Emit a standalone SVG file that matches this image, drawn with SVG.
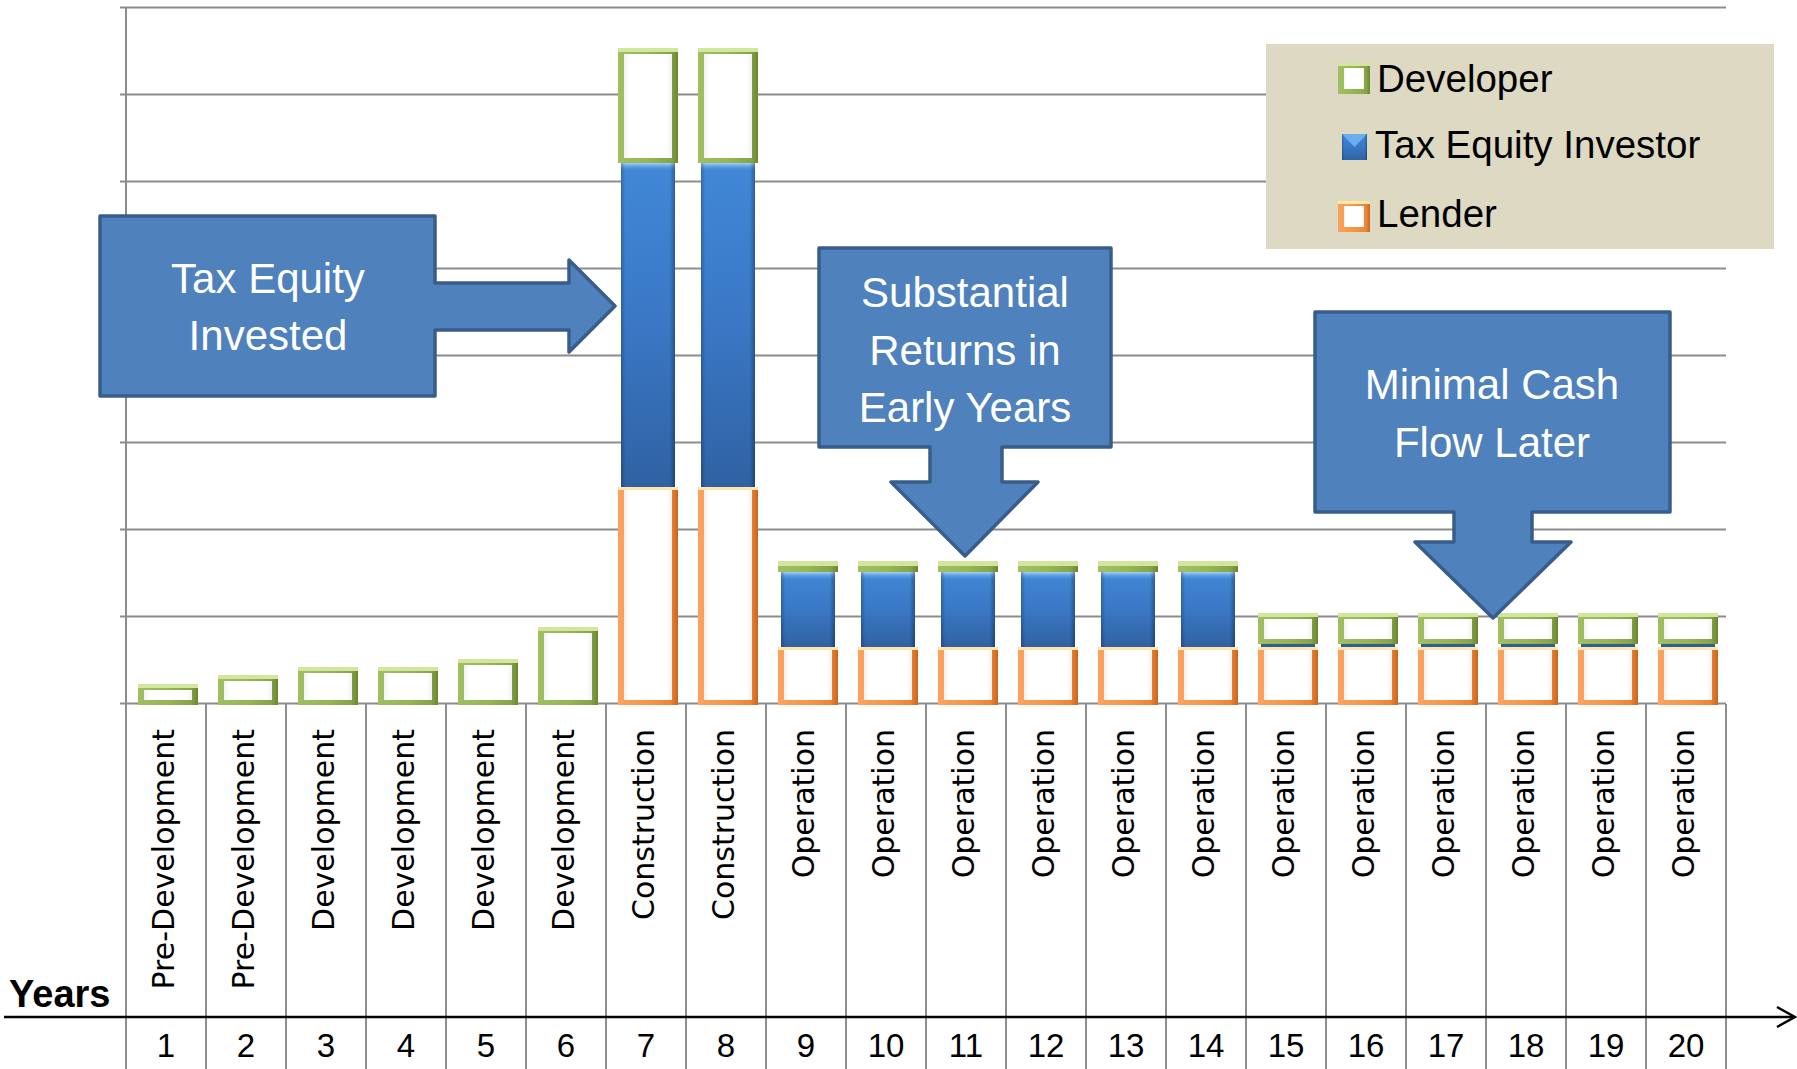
<svg xmlns="http://www.w3.org/2000/svg" width="1797" height="1069" viewBox="0 0 1797 1069">
<defs>
<style>
.grid{stroke:#8C8C8C;stroke-width:2;fill:none}
.div{stroke:#8E8E8E;stroke-width:2;fill:none}
.axis{stroke:#000;stroke-width:2.5;fill:none}
.cat{font-family:"DejaVu Sans",sans-serif;font-size:30px;fill:#000}
.num{font-family:"Liberation Sans",Arial,sans-serif;font-size:33px;fill:#000;text-anchor:middle}
.callout{fill:#4F81BD;stroke:#385D8A;stroke-width:3.5;stroke-linejoin:round}
.ctext{font-family:"Liberation Sans",Arial,sans-serif;font-size:42px;fill:#FFFFFF;text-anchor:middle}
.leg{font-family:"Liberation Sans",Arial,sans-serif;font-size:38.5px;fill:#000}
.gOut{fill:url(#gGreen)}
.gTop{fill:#D3E6A0}
.wIn{fill:url(#gWhite)}
.oOut{fill:url(#gOrange)}
.oTop{fill:#FDE7A8}
.bBase{fill:url(#gBlueV)}
.bEdge{fill:url(#gBlueH)}
.bTop{fill:url(#gBlueTop)}
</style>
<linearGradient id="gGreen" x1="0" y1="0" x2="1" y2="0">
<stop offset="0" stop-color="#A0BF62"/><stop offset="0.5" stop-color="#96B654"/><stop offset="0.88" stop-color="#86A547"/><stop offset="1" stop-color="#6A8632"/>
</linearGradient>
<linearGradient id="gOrange" x1="0" y1="0" x2="1" y2="0">
<stop offset="0" stop-color="#F9A35E"/><stop offset="0.5" stop-color="#F79646"/><stop offset="0.88" stop-color="#EC8537"/><stop offset="1" stop-color="#C8661E"/>
</linearGradient>
<linearGradient id="gWhite" x1="0" y1="0" x2="1" y2="0">
<stop offset="0" stop-color="#F2F2F2"/><stop offset="0.12" stop-color="#FFFFFF"/><stop offset="0.88" stop-color="#FFFFFF"/><stop offset="1" stop-color="#F2F2F2"/>
</linearGradient>
<linearGradient id="gBlueV" x1="0" y1="0" x2="0" y2="1">
<stop offset="0" stop-color="#4088D8"/><stop offset="0.5" stop-color="#3A77C4"/><stop offset="1" stop-color="#2F62A3"/>
</linearGradient>
<linearGradient id="gBlueH" x1="0" y1="0" x2="1" y2="0">
<stop offset="0" stop-color="#000" stop-opacity="0.22"/><stop offset="0.08" stop-color="#000" stop-opacity="0"/><stop offset="0.9" stop-color="#000" stop-opacity="0"/><stop offset="1" stop-color="#000" stop-opacity="0.3"/>
</linearGradient>
<linearGradient id="gBlueTop" x1="0" y1="0" x2="0" y2="1">
<stop offset="0" stop-color="#A3D2FA"/><stop offset="1" stop-color="#4A8FDA" stop-opacity="0"/>
</linearGradient>
</defs>

<rect x="0" y="0" width="1797" height="1069" fill="#FFFFFF"/>

<g id="gridlines">
<line class="grid" x1="120" y1="7.5" x2="1726" y2="7.5"/>
<line class="grid" x1="120" y1="94.5" x2="1726" y2="94.5"/>
<line class="grid" x1="120" y1="181.5" x2="1726" y2="181.5"/>
<line class="grid" x1="120" y1="268.5" x2="1726" y2="268.5"/>
<line class="grid" x1="120" y1="355.5" x2="1726" y2="355.5"/>
<line class="grid" x1="120" y1="442.5" x2="1726" y2="442.5"/>
<line class="grid" x1="120" y1="529.5" x2="1726" y2="529.5"/>
<line class="grid" x1="120" y1="616.5" x2="1726" y2="616.5"/>
<line class="grid" x1="120" y1="703.5" x2="1726" y2="703.5"/>
<line class="grid" x1="126" y1="7" x2="126" y2="704"/>
</g>

<g id="dividers">
<line class="div" x1="126" y1="704" x2="126" y2="1069"/>
<line class="div" x1="206" y1="704" x2="206" y2="1069"/>
<line class="div" x1="286" y1="704" x2="286" y2="1069"/>
<line class="div" x1="366" y1="704" x2="366" y2="1069"/>
<line class="div" x1="446" y1="704" x2="446" y2="1069"/>
<line class="div" x1="526" y1="704" x2="526" y2="1069"/>
<line class="div" x1="606" y1="704" x2="606" y2="1069"/>
<line class="div" x1="686" y1="704" x2="686" y2="1069"/>
<line class="div" x1="766" y1="704" x2="766" y2="1069"/>
<line class="div" x1="846" y1="704" x2="846" y2="1069"/>
<line class="div" x1="926" y1="704" x2="926" y2="1069"/>
<line class="div" x1="1006" y1="704" x2="1006" y2="1069"/>
<line class="div" x1="1086" y1="704" x2="1086" y2="1069"/>
<line class="div" x1="1166" y1="704" x2="1166" y2="1069"/>
<line class="div" x1="1246" y1="704" x2="1246" y2="1069"/>
<line class="div" x1="1326" y1="704" x2="1326" y2="1069"/>
<line class="div" x1="1406" y1="704" x2="1406" y2="1069"/>
<line class="div" x1="1486" y1="704" x2="1486" y2="1069"/>
<line class="div" x1="1566" y1="704" x2="1566" y2="1069"/>
<line class="div" x1="1646" y1="704" x2="1646" y2="1069"/>
<line class="div" x1="1726" y1="704" x2="1726" y2="1069"/>
</g>

<g id="legend">
<rect x="1266" y="44" width="508" height="205" fill="#DDD9C3"/>
<rect class="gOut" x="1338" y="63" width="32" height="31"/>
<rect class="gTop" x="1338" y="63" width="32" height="3"/>
<rect class="wIn" x="1344" y="68" width="20" height="21"/>
<rect class="bBase" x="1342" y="134" width="25" height="26"/>
<polygon points="1342,134 1367,134 1354.5,147" fill="#6BAEF0"/>
<rect class="bEdge" x="1342" y="134" width="25" height="26"/>
<rect class="oOut" x="1338" y="201" width="32" height="31"/>
<rect class="oTop" x="1338" y="201" width="32" height="3"/>
<rect class="wIn" x="1344" y="206" width="20" height="21"/>
<text class="leg" x="1377" y="92">Developer</text>
<text class="leg" x="1375" y="158">Tax Equity Investor</text>
<text class="leg" x="1377" y="227">Lender</text>
</g>

<g id="bars">
<g id="bar1"><rect class="gOut" x="138" y="684" width="60" height="21"/><rect class="gTop" x="138" y="684" width="60" height="4"/><rect class="wIn" x="144" y="690" width="48" height="10"/></g>
<g id="bar2"><rect class="gOut" x="218" y="675" width="60" height="30"/><rect class="gTop" x="218" y="675" width="60" height="4"/><rect class="wIn" x="224" y="681" width="48" height="19"/></g>
<g id="bar3"><rect class="gOut" x="298" y="667" width="60" height="38"/><rect class="gTop" x="298" y="667" width="60" height="4"/><rect class="wIn" x="304" y="673" width="48" height="27"/></g>
<g id="bar4"><rect class="gOut" x="378" y="667" width="60" height="38"/><rect class="gTop" x="378" y="667" width="60" height="4"/><rect class="wIn" x="384" y="673" width="48" height="27"/></g>
<g id="bar5"><rect class="gOut" x="458" y="659" width="60" height="46"/><rect class="gTop" x="458" y="659" width="60" height="4"/><rect class="wIn" x="464" y="665" width="48" height="35"/></g>
<g id="bar6"><rect class="gOut" x="538" y="627" width="60" height="78"/><rect class="gTop" x="538" y="627" width="60" height="4"/><rect class="wIn" x="544" y="633" width="48" height="67"/></g>

<g id="bar7">
<rect class="oOut" x="618" y="487" width="60" height="218"/><rect class="oTop" x="618" y="487" width="60" height="3"/><rect class="wIn" x="624" y="490" width="48" height="210"/>
<rect class="bBase" x="621" y="163" width="54" height="324"/><rect class="bTop" x="621" y="163" width="54" height="8"/><rect class="bEdge" x="621" y="163" width="54" height="324"/>
<rect class="gOut" x="618" y="48" width="60" height="115"/><rect class="gTop" x="618" y="48" width="60" height="4"/><rect class="wIn" x="624" y="54" width="48" height="104"/>
</g>
<g id="bar8">
<rect class="oOut" x="698" y="487" width="60" height="218"/><rect class="oTop" x="698" y="487" width="60" height="3"/><rect class="wIn" x="704" y="490" width="48" height="210"/>
<rect class="bBase" x="701" y="163" width="54" height="324"/><rect class="bTop" x="701" y="163" width="54" height="8"/><rect class="bEdge" x="701" y="163" width="54" height="324"/>
<rect class="gOut" x="698" y="48" width="60" height="115"/><rect class="gTop" x="698" y="48" width="60" height="4"/><rect class="wIn" x="704" y="54" width="48" height="104"/>
</g>

<g id="bar9">
<rect class="oOut" x="778" y="647" width="60" height="58"/><rect class="oTop" x="778" y="647" width="60" height="3"/><rect class="wIn" x="784" y="650" width="48" height="50"/>
<rect class="bBase" x="781" y="572" width="54" height="75"/><rect class="bTop" x="781" y="572" width="54" height="8"/><rect class="bEdge" x="781" y="572" width="54" height="75"/>
<rect class="gOut" x="778" y="561" width="60" height="11"/><rect class="gTop" x="778" y="561" width="60" height="5"/>
</g>
<g id="bar10">
<rect class="oOut" x="858" y="647" width="60" height="58"/><rect class="oTop" x="858" y="647" width="60" height="3"/><rect class="wIn" x="864" y="650" width="48" height="50"/>
<rect class="bBase" x="861" y="572" width="54" height="75"/><rect class="bTop" x="861" y="572" width="54" height="8"/><rect class="bEdge" x="861" y="572" width="54" height="75"/>
<rect class="gOut" x="858" y="561" width="60" height="11"/><rect class="gTop" x="858" y="561" width="60" height="5"/>
</g>
<g id="bar11">
<rect class="oOut" x="938" y="647" width="60" height="58"/><rect class="oTop" x="938" y="647" width="60" height="3"/><rect class="wIn" x="944" y="650" width="48" height="50"/>
<rect class="bBase" x="941" y="572" width="54" height="75"/><rect class="bTop" x="941" y="572" width="54" height="8"/><rect class="bEdge" x="941" y="572" width="54" height="75"/>
<rect class="gOut" x="938" y="561" width="60" height="11"/><rect class="gTop" x="938" y="561" width="60" height="5"/>
</g>
<g id="bar12">
<rect class="oOut" x="1018" y="647" width="60" height="58"/><rect class="oTop" x="1018" y="647" width="60" height="3"/><rect class="wIn" x="1024" y="650" width="48" height="50"/>
<rect class="bBase" x="1021" y="572" width="54" height="75"/><rect class="bTop" x="1021" y="572" width="54" height="8"/><rect class="bEdge" x="1021" y="572" width="54" height="75"/>
<rect class="gOut" x="1018" y="561" width="60" height="11"/><rect class="gTop" x="1018" y="561" width="60" height="5"/>
</g>
<g id="bar13">
<rect class="oOut" x="1098" y="647" width="60" height="58"/><rect class="oTop" x="1098" y="647" width="60" height="3"/><rect class="wIn" x="1104" y="650" width="48" height="50"/>
<rect class="bBase" x="1101" y="572" width="54" height="75"/><rect class="bTop" x="1101" y="572" width="54" height="8"/><rect class="bEdge" x="1101" y="572" width="54" height="75"/>
<rect class="gOut" x="1098" y="561" width="60" height="11"/><rect class="gTop" x="1098" y="561" width="60" height="5"/>
</g>
<g id="bar14">
<rect class="oOut" x="1178" y="647" width="60" height="58"/><rect class="oTop" x="1178" y="647" width="60" height="3"/><rect class="wIn" x="1184" y="650" width="48" height="50"/>
<rect class="bBase" x="1181" y="572" width="54" height="75"/><rect class="bTop" x="1181" y="572" width="54" height="8"/><rect class="bEdge" x="1181" y="572" width="54" height="75"/>
<rect class="gOut" x="1178" y="561" width="60" height="11"/><rect class="gTop" x="1178" y="561" width="60" height="5"/>
</g>

<g id="bar15">
<rect class="oOut" x="1258" y="647" width="60" height="58"/><rect class="oTop" x="1258" y="647" width="60" height="3"/><rect class="wIn" x="1264" y="650" width="48" height="50"/>
<rect x="1261" y="644" width="54" height="3" fill="#2F5E97"/>
<rect class="gOut" x="1258" y="613" width="60" height="31"/><rect class="gTop" x="1258" y="613" width="60" height="4"/><rect class="wIn" x="1264" y="619" width="48" height="20"/>
</g>
<g id="bar16">
<rect class="oOut" x="1338" y="647" width="60" height="58"/><rect class="oTop" x="1338" y="647" width="60" height="3"/><rect class="wIn" x="1344" y="650" width="48" height="50"/>
<rect x="1341" y="644" width="54" height="3" fill="#2F5E97"/>
<rect class="gOut" x="1338" y="613" width="60" height="31"/><rect class="gTop" x="1338" y="613" width="60" height="4"/><rect class="wIn" x="1344" y="619" width="48" height="20"/>
</g>
<g id="bar17">
<rect class="oOut" x="1418" y="647" width="60" height="58"/><rect class="oTop" x="1418" y="647" width="60" height="3"/><rect class="wIn" x="1424" y="650" width="48" height="50"/>
<rect x="1421" y="644" width="54" height="3" fill="#2F5E97"/>
<rect class="gOut" x="1418" y="613" width="60" height="31"/><rect class="gTop" x="1418" y="613" width="60" height="4"/><rect class="wIn" x="1424" y="619" width="48" height="20"/>
</g>
<g id="bar18">
<rect class="oOut" x="1498" y="647" width="60" height="58"/><rect class="oTop" x="1498" y="647" width="60" height="3"/><rect class="wIn" x="1504" y="650" width="48" height="50"/>
<rect x="1501" y="644" width="54" height="3" fill="#2F5E97"/>
<rect class="gOut" x="1498" y="613" width="60" height="31"/><rect class="gTop" x="1498" y="613" width="60" height="4"/><rect class="wIn" x="1504" y="619" width="48" height="20"/>
</g>
<g id="bar19">
<rect class="oOut" x="1578" y="647" width="60" height="58"/><rect class="oTop" x="1578" y="647" width="60" height="3"/><rect class="wIn" x="1584" y="650" width="48" height="50"/>
<rect x="1581" y="644" width="54" height="3" fill="#2F5E97"/>
<rect class="gOut" x="1578" y="613" width="60" height="31"/><rect class="gTop" x="1578" y="613" width="60" height="4"/><rect class="wIn" x="1584" y="619" width="48" height="20"/>
</g>
<g id="bar20">
<rect class="oOut" x="1658" y="647" width="60" height="58"/><rect class="oTop" x="1658" y="647" width="60" height="3"/><rect class="wIn" x="1664" y="650" width="48" height="50"/>
<rect x="1661" y="644" width="54" height="3" fill="#2F5E97"/>
<rect class="gOut" x="1658" y="613" width="60" height="31"/><rect class="gTop" x="1658" y="613" width="60" height="4"/><rect class="wIn" x="1664" y="619" width="48" height="20"/>
</g>
</g>

<g id="category-labels">
<text class="cat" text-anchor="end" transform="translate(174,729) rotate(-90)">Pre-Development</text>
<text class="cat" text-anchor="end" transform="translate(254,729) rotate(-90)">Pre-Development</text>
<text class="cat" text-anchor="end" transform="translate(334,729) rotate(-90)">Development</text>
<text class="cat" text-anchor="end" transform="translate(414,729) rotate(-90)">Development</text>
<text class="cat" text-anchor="end" transform="translate(494,729) rotate(-90)">Development</text>
<text class="cat" text-anchor="end" transform="translate(574,729) rotate(-90)">Development</text>
<text class="cat" text-anchor="end" transform="translate(654,729) rotate(-90)">Construction</text>
<text class="cat" text-anchor="end" transform="translate(734,729) rotate(-90)">Construction</text>
<text class="cat" text-anchor="end" transform="translate(814,729) rotate(-90)">Operation</text>
<text class="cat" text-anchor="end" transform="translate(894,729) rotate(-90)">Operation</text>
<text class="cat" text-anchor="end" transform="translate(974,729) rotate(-90)">Operation</text>
<text class="cat" text-anchor="end" transform="translate(1054,729) rotate(-90)">Operation</text>
<text class="cat" text-anchor="end" transform="translate(1134,729) rotate(-90)">Operation</text>
<text class="cat" text-anchor="end" transform="translate(1214,729) rotate(-90)">Operation</text>
<text class="cat" text-anchor="end" transform="translate(1294,729) rotate(-90)">Operation</text>
<text class="cat" text-anchor="end" transform="translate(1374,729) rotate(-90)">Operation</text>
<text class="cat" text-anchor="end" transform="translate(1454,729) rotate(-90)">Operation</text>
<text class="cat" text-anchor="end" transform="translate(1534,729) rotate(-90)">Operation</text>
<text class="cat" text-anchor="end" transform="translate(1614,729) rotate(-90)">Operation</text>
<text class="cat" text-anchor="end" transform="translate(1694,729) rotate(-90)">Operation</text>
</g>

<g id="year-numbers">
<text class="num" x="166" y="1057">1</text>
<text class="num" x="246" y="1057">2</text>
<text class="num" x="326" y="1057">3</text>
<text class="num" x="406" y="1057">4</text>
<text class="num" x="486" y="1057">5</text>
<text class="num" x="566" y="1057">6</text>
<text class="num" x="646" y="1057">7</text>
<text class="num" x="726" y="1057">8</text>
<text class="num" x="806" y="1057">9</text>
<text class="num" x="886" y="1057">10</text>
<text class="num" x="966" y="1057">11</text>
<text class="num" x="1046" y="1057">12</text>
<text class="num" x="1126" y="1057">13</text>
<text class="num" x="1206" y="1057">14</text>
<text class="num" x="1286" y="1057">15</text>
<text class="num" x="1366" y="1057">16</text>
<text class="num" x="1446" y="1057">17</text>
<text class="num" x="1526" y="1057">18</text>
<text class="num" x="1606" y="1057">19</text>
<text class="num" x="1686" y="1057">20</text>
<text x="9" y="1007" font-family="Liberation Sans, Arial, sans-serif" font-size="38" font-weight="bold" fill="#000">Years</text>
</g>

<g id="connectors">
<line class="axis" x1="4" y1="1017" x2="1794" y2="1017"/>
<polyline class="axis" points="1777,1007 1795,1017 1777,1027"/>
</g>

<g id="callout-tax-equity-invested">
<path class="callout" d="M100,216 H435 V283 H569 V260 L615,306 L569,352 V330 H435 V396 H100 Z"/>
<text class="ctext" x="268" y="293">Tax Equity</text>
<text class="ctext" x="268" y="350">Invested</text>
</g>

<g id="callout-substantial-returns">
<path class="callout" d="M819,248 H1111 V447 H1002 V482 H1038 L965,556 L891,482 H930 V447 H819 Z"/>
<text class="ctext" x="965" y="307">Substantial</text>
<text class="ctext" x="965" y="365">Returns in</text>
<text class="ctext" x="965" y="422">Early Years</text>
</g>

<g id="callout-minimal-cash-flow">
<path class="callout" d="M1315,312 H1670 V512 H1532 V542 H1571 L1493,618 L1415,542 H1454 V512 H1315 Z"/>
<text class="ctext" x="1492" y="399">Minimal Cash</text>
<text class="ctext" x="1492" y="457">Flow Later</text>
</g>
</svg>
